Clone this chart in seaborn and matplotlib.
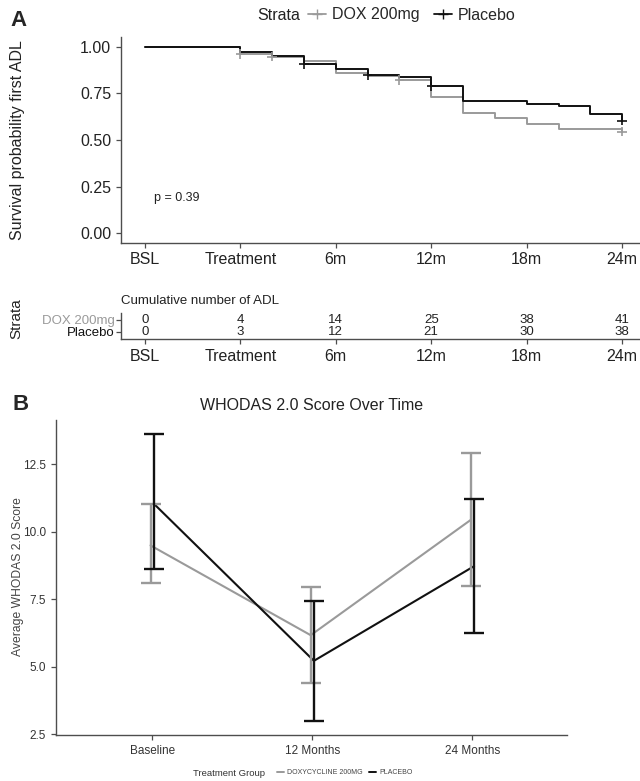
import matplotlib
matplotlib.use("Agg")
import matplotlib.pyplot as plt
from matplotlib.lines import Line2D
import seaborn as sns
import pandas as pd

# Panel A: Kaplan-Meier type curves for first ADL (time in visit units)
adl_time = [0, 3, 4, 5, 6, 7, 8, 9, 10, 11, 12, 13, 14, 15]
surv_placebo = [1.00, 0.97, 0.951, 0.907, 0.878, 0.848, 0.839, 0.787, 0.71, 0.71, 0.693, 0.682, 0.637, 0.603]
surv_dox = [1.00, 0.96, 0.946, 0.925, 0.857, 0.842, 0.821, 0.731, 0.643, 0.616, 0.584, 0.557, 0.557, 0.544]
censor_time_dox = [3, 4, 8, 15]
censor_time_placebo = [5, 7, 9, 15]

time_ticks = [0, 3, 6, 9, 12, 15]
time_labels = ["BSL", "Treatment", "6m", "12m", "18m", "24m"]
cum_adl_dox = [0, 4, 14, 25, 38, 41]
cum_adl_placebo = [0, 3, 12, 21, 30, 38]

# Panel B: WHODAS 2.0 means with error bars
visits = ["Baseline", "12 Months", "24 Months"]
whodas_dox = [9.50, 6.17, 10.45]
whodas_dox_lo = [8.11, 4.39, 8.00]
whodas_dox_hi = [11.02, 7.96, 12.92]
whodas_placebo = [11.05, 5.22, 8.73]
whodas_placebo_lo = [8.63, 3.00, 6.24]
whodas_placebo_hi = [13.63, 7.43, 11.23]

GREY = "#9a9a9a"
BLACK = "#111111"
AXC = "#4d4d4d"

sns.set_style("white")
plt.rcParams["font.family"] = ["Liberation Sans", "DejaVu Sans"]

W, H = 640, 781
fig = plt.figure(figsize=(W / 100, H / 100), dpi=100)


def px_axes(left, top, right, bottom):
    return fig.add_axes([left / W, 1 - bottom / H, (right - left) / W, (bottom - top) / H])


def px_text(x, y, s, **kw):
    return fig.text(x / W, 1 - y / H, s, **kw)


def style_axes(ax):
    sns.despine(ax=ax)
    for s in ("left", "bottom"):
        ax.spines[s].set_color(AXC)
        ax.spines[s].set_linewidth(1.0)
    ax.tick_params(axis="both", direction="out", length=3.5, width=0.9, color=AXC,
                   left=True, bottom=True)


# ---------------- Panel A: survival curves ----------------
km = pd.concat([
    pd.DataFrame({"time": adl_time, "surv": surv_dox, "Strata": "DOX 200mg"}),
    pd.DataFrame({"time": adl_time, "surv": surv_placebo, "Strata": "Placebo"}),
])
cens = pd.concat([
    pd.DataFrame({"time": censor_time_dox,
                  "surv": [surv_dox[adl_time.index(t)] for t in censor_time_dox],
                  "Strata": "DOX 200mg"}),
    pd.DataFrame({"time": censor_time_placebo,
                  "surv": [surv_placebo[adl_time.index(t)] for t in censor_time_placebo],
                  "Strata": "Placebo"}),
])
pal = {"DOX 200mg": GREY, "Placebo": BLACK}

axA = px_axes(121, 37.3, 646, 242.6)
sns.lineplot(data=km, x="time", y="surv", hue="Strata", palette=pal, drawstyle="steps-post",
             linewidth=1.4, legend=False, ax=axA, estimator=None)
sns.scatterplot(data=cens, x="time", y="surv", hue="Strata", palette=pal, marker="+",
                s=45, linewidth=1.2, legend=False, ax=axA, zorder=5)
axA.set_xlim(-0.75, 15.75)
axA.set_ylim(-0.05, 1.05)
axA.set_xticks(time_ticks)
axA.set_xticklabels(time_labels)
axA.set_yticks([0, 0.25, 0.5, 0.75, 1.0])
axA.set_yticklabels(["0.00", "0.25", "0.50", "0.75", "1.00"])
axA.tick_params(labelsize=11.5, labelcolor="#222222")
axA.set_xlabel("")
axA.set_ylabel("")
style_axes(axA)
axA.text(0.3, 0.19, "p = 0.39", fontsize=9, color="#222222", va="center")
px_text(18, 140, "Survival probability first ADL", fontsize=11.5, rotation=90,
        ha="center", va="center", color="#222222")

px_text(10, 21, "A", fontsize=16, fontweight="heavy", va="center")

# top legend
px_text(257, 15, "Strata", fontsize=11.5, va="center", color="#222222")
legA = [Line2D([0], [0], color=GREY, marker="+", lw=1.3, markersize=7),
        Line2D([0], [0], color=BLACK, marker="+", lw=1.3, markersize=7)]
fig.legend(legA, ["DOX 200mg", "Placebo"], loc="center left", bbox_to_anchor=(308 / W, 1 - 15 / H),
           ncol=2, frameon=False, fontsize=11.5, handlelength=1.1, handletextpad=0.4,
           columnspacing=0.9, borderaxespad=0, borderpad=0)

# ---------------- Risk table ----------------
axR = px_axes(121, 312.6, 646, 339)
for yv, vals in ((2, cum_adl_dox), (1, cum_adl_placebo)):
    for t, v in zip(time_ticks, vals):
        axR.text(t, yv, str(v), ha="center", va="center", fontsize=9.5, color="#222222")
axR.set_xlim(-0.75, 15.75)
axR.set_ylim(0.4, 2.6)
axR.set_xticks(time_ticks)
axR.set_xticklabels(time_labels)
axR.set_yticks([1, 2])
axR.set_yticklabels(["Placebo", "DOX 200mg"])
axR.tick_params(axis="x", labelsize=11.5, labelcolor="#222222")
axR.tick_params(axis="y", labelsize=9.5, pad=1)
axR.get_yticklabels()[0].set_color(BLACK)
axR.get_yticklabels()[1].set_color(GREY)
axR.set_ylabel("")
axR.set_title("Cumulative number of ADL", fontsize=9.5, loc="left", pad=6, color="#222222")
style_axes(axR)
axR.set_facecolor("none")
px_text(16, 319, "Strata", fontsize=11, rotation=90, ha="center", va="center", color="#222222")

# ---------------- Panel B: WHODAS ----------------
axB = px_axes(56, 420, 567, 735)
wd = pd.concat([
    pd.DataFrame({"x": [i - 0.01 for i in range(3)], "score": whodas_dox, "lo": whodas_dox_lo,
                  "hi": whodas_dox_hi, "group": "DOXYCYCLINE 200MG"}),
    pd.DataFrame({"x": [i + 0.01 for i in range(3)], "score": whodas_placebo, "lo": whodas_placebo_lo,
                  "hi": whodas_placebo_hi, "group": "PLACEBO"}),
])
palB = {"DOXYCYCLINE 200MG": GREY, "PLACEBO": BLACK}
sns.lineplot(data=wd, x="x", y="score", hue="group", palette=palB, linewidth=1.5,
             legend=False, ax=axB, estimator=None)
for g, sub in wd.groupby("group"):
    axB.errorbar(sub["x"], sub["score"], yerr=[sub["score"] - sub["lo"], sub["hi"] - sub["score"]],
                 fmt="none", ecolor=palB[g], elinewidth=1.7, capsize=7, capthick=1.7)
axB.set_xlim(-0.6, 2.59)
axB.set_ylim(2.47, 14.15)
axB.set_xticks(range(3))
axB.set_xticklabels(visits)
axB.set_yticks([2.5, 5.0, 7.5, 10.0, 12.5])
axB.set_yticklabels(["2.5", "5.0", "7.5", "10.0", "12.5"])
axB.tick_params(labelsize=8.5, labelcolor="#333333")
axB.set_xlabel("")
axB.set_ylabel("")
axB.set_title("WHODAS 2.0 Score Over Time", fontsize=11.5, pad=7, color="#222222")
style_axes(axB)
px_text(18, 577, "Average WHODAS 2.0 Score", fontsize=8.7, rotation=90, ha="center",
        va="center", color="#444444")

px_text(12, 405, "B", fontsize=16, fontweight="heavy", va="center")

# bottom legend
px_text(193, 773, "Treatment Group", fontsize=6.8, va="center", color="#333333")
legB = [Line2D([0], [0], color=GREY, lw=1.4), Line2D([0], [0], color=BLACK, lw=1.4)]
fig.legend(legB, ["DOXYCYCLINE 200MG", "PLACEBO"], loc="center left",
           bbox_to_anchor=(277 / W, 1 - 773 / H), ncol=2, frameon=False, fontsize=5,
           handlelength=1.0, handletextpad=0.5, columnspacing=0.8, borderaxespad=0, borderpad=0,
           labelcolor="#444444")

fig.savefig("out.png", dpi=100)
